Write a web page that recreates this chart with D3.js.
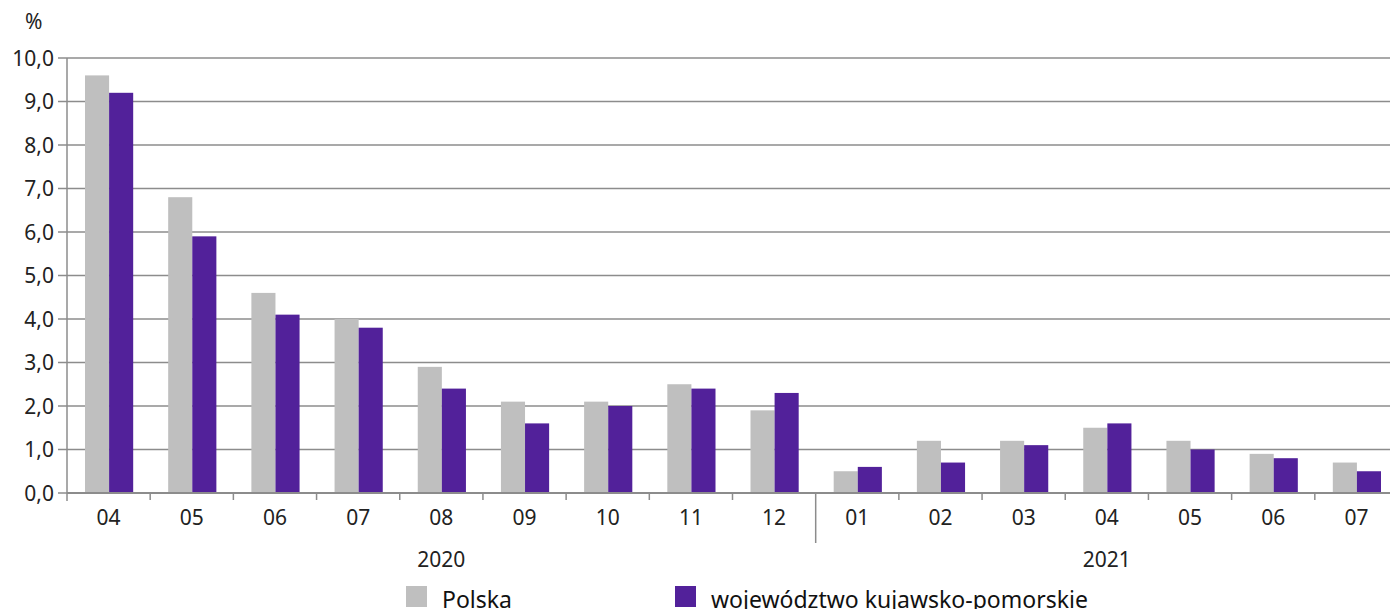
<!DOCTYPE html>
<html>
<head>
<meta charset="utf-8">
<script src="https://cdn.jsdelivr.net/npm/d3@7"></script>
<style>
  body { margin: 0; background: #fff; }
  svg { display: block; font-family: "Noto Sans", sans-serif; }
</style>
</head>
<body>
<svg id="chart" width="1390" height="609"></svg>
<script>
// months shown on the x axis, grouped by year
const months = ['04', '05', '06', '07', '08', '09', '10', '11', '12', '01', '02', '03', '04', '05', '06', '07']
const years = [
  { label: '2020', from: 0, to: 9 },
  { label: '2021', from: 9, to: 16 }
]
const polska = [9.6, 6.8, 4.6, 4.0, 2.9, 2.1, 2.1, 2.5, 1.9, 0.5, 1.2, 1.2, 1.5, 1.2, 0.9, 0.7]
const kujPom = [9.2, 5.9, 4.1, 3.8, 2.4, 1.6, 2.0, 2.4, 2.3, 0.6, 0.7, 1.1, 1.6, 1.0, 0.8, 0.5]
const seriesNames = ['Polska', 'województwo kujawsko-pomorskie']
const yTicks = [0, 1, 2, 3, 4, 5, 6, 7, 8, 9, 10]

const colors = ['#bfbfbf', '#52219a']
const gridColor = '#8c8c8c'

const svg = d3.select('#chart')
const margin = { left: 67, right: -8, top: 58, bottom: 116 }
const width = 1390 - margin.left - margin.right
const height = 609 - margin.top - margin.bottom

const keys = months.map((m, i) => i)
const x = d3.scaleBand().domain(keys).range([margin.left, margin.left + width])
const x1 = d3.scaleBand().domain([0, 1]).range([18, x.bandwidth() - 17])
const y = d3.scaleLinear().domain([0, 10]).range([margin.top + height, margin.top])

// gridlines
svg.append('g')
  .selectAll('line')
  .data(yTicks)
  .join('line')
  .attr('x1', margin.left - 9)
  .attr('x2', 1390)
  .attr('y1', d => y(d))
  .attr('y2', d => y(d))
  .attr('stroke', gridColor)
  .attr('stroke-width', 1.5)

// y labels
svg.append('g')
  .selectAll('text')
  .data(yTicks)
  .join('text')
  .attr('x', 54)
  .attr('y', d => y(d))
  .attr('dy', '0.36em')
  .attr('text-anchor', 'end')
  .attr('font-size', 21)
  .attr('fill', '#222')
  .text(d => d3.format('.1f')(d).replace('.', ','))

svg.append('text')
  .attr('x', 25)
  .attr('y', 29)
  .attr('font-size', 21)
  .attr('fill', '#222')
  .text('%')

// bars
const data = keys.map(i => [polska[i], kujPom[i]])
svg.append('g')
  .selectAll('g')
  .data(data)
  .join('g')
  .attr('transform', (d, i) => `translate(${x(i)},0)`)
  .selectAll('rect')
  .data(d => d)
  .join('rect')
  .attr('x', (d, j) => x1(j))
  .attr('width', x1.bandwidth())
  .attr('y', d => y(d))
  .attr('height', d => y(0) - y(d))
  .attr('fill', (d, j) => colors[j])

// axis lines
svg.append('line')
  .attr('x1', margin.left).attr('x2', margin.left)
  .attr('y1', y(10)).attr('y2', y(0) + 8)
  .attr('stroke', gridColor).attr('stroke-width', 1.5)

svg.append('line')
  .attr('x1', margin.left).attr('x2', 1390)
  .attr('y1', y(0)).attr('y2', y(0))
  .attr('stroke', gridColor).attr('stroke-width', 2)

// x ticks between categories
svg.append('g')
  .selectAll('line')
  .data(keys.slice(1))
  .join('line')
  .attr('x1', d => x(d))
  .attr('x2', d => x(d))
  .attr('y1', y(0))
  .attr('y2', d => d === 9 ? y(0) + 50 : y(0) + 7)
  .attr('stroke', gridColor)
  .attr('stroke-width', 1.5)

svg.append('g')
  .selectAll('text')
  .data(keys)
  .join('text')
  .attr('x', d => x(d) + x.bandwidth() / 2)
  .attr('y', y(0) + 32)
  .attr('text-anchor', 'middle')
  .attr('font-size', 21)
  .attr('fill', '#222')
  .text(d => months[d])

svg.append('g')
  .selectAll('text')
  .data(years)
  .join('text')
  .attr('x', d => (x(d.from) + x(d.to - 1) + x.bandwidth()) / 2)
  .attr('y', y(0) + 74)
  .attr('text-anchor', 'middle')
  .attr('font-size', 21)
  .attr('fill', '#222')
  .text(d => d.label)

// legend
const legendX = [406, 675]
const legend = svg.append('g')
  .selectAll('g')
  .data(seriesNames)
  .join('g')
  .attr('transform', (d, i) => `translate(${legendX[i]},586)`)
legend.append('rect')
  .attr('width', 21)
  .attr('height', 21)
  .attr('fill', (d, i) => colors[i])
legend.append('text')
  .attr('x', 36)
  .attr('y', 22)
  .attr('font-size', 23)
  .attr('fill', '#111')
  .text(d => d)
</script>
</body>
</html>
